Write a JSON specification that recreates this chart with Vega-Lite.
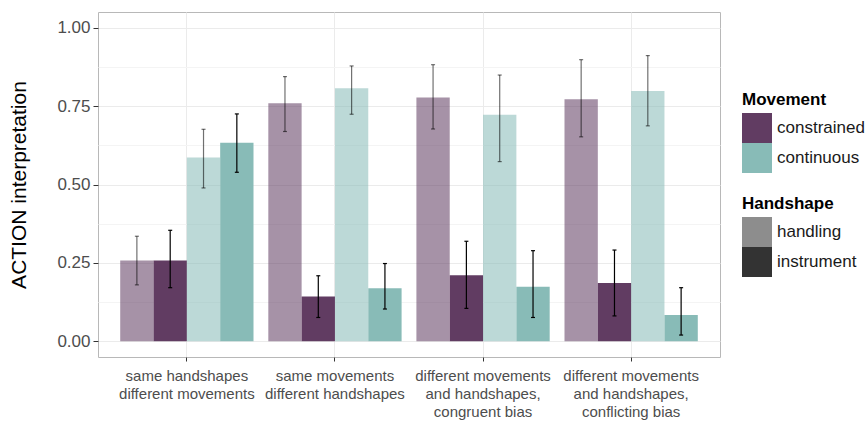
{
  "$schema": "https://vega.github.io/schema/vega-lite/v6.json",
  "width": 622,
  "height": 345,
  "autosize": {"type": "none"},
  "padding": {"left": 98, "top": 12, "right": 146, "bottom": 64},
  "background": "white",
  "config": {
    "font": "Liberation Sans",
    "view": {"stroke": "#b8b8b8", "strokeWidth": 1}
  },
  "data": {
    "values": [
      {"condition": "same handshapes\ndifferent movements", "Movement": "constrained", "Handshape": "handling", "bar": "constrained / handling", "mean": 0.258, "lo": 0.18, "hi": 0.335},
      {"condition": "same handshapes\ndifferent movements", "Movement": "constrained", "Handshape": "instrument", "bar": "constrained / instrument", "mean": 0.258, "lo": 0.171, "hi": 0.354},
      {"condition": "same handshapes\ndifferent movements", "Movement": "continuous", "Handshape": "handling", "bar": "continuous / handling", "mean": 0.586, "lo": 0.489, "hi": 0.676},
      {"condition": "same handshapes\ndifferent movements", "Movement": "continuous", "Handshape": "instrument", "bar": "continuous / instrument", "mean": 0.633, "lo": 0.539, "hi": 0.725},
      {"condition": "same movements\ndifferent handshapes", "Movement": "constrained", "Handshape": "handling", "bar": "constrained / handling", "mean": 0.759, "lo": 0.669, "hi": 0.844},
      {"condition": "same movements\ndifferent handshapes", "Movement": "constrained", "Handshape": "instrument", "bar": "constrained / instrument", "mean": 0.143, "lo": 0.076, "hi": 0.209},
      {"condition": "same movements\ndifferent handshapes", "Movement": "continuous", "Handshape": "handling", "bar": "continuous / handling", "mean": 0.807, "lo": 0.724, "hi": 0.878},
      {"condition": "same movements\ndifferent handshapes", "Movement": "continuous", "Handshape": "instrument", "bar": "continuous / instrument", "mean": 0.169, "lo": 0.103, "hi": 0.248},
      {"condition": "different movements\nand handshapes,\ncongruent bias", "Movement": "constrained", "Handshape": "handling", "bar": "constrained / handling", "mean": 0.777, "lo": 0.677, "hi": 0.882},
      {"condition": "different movements\nand handshapes,\ncongruent bias", "Movement": "constrained", "Handshape": "instrument", "bar": "constrained / instrument", "mean": 0.211, "lo": 0.105, "hi": 0.319},
      {"condition": "different movements\nand handshapes,\ncongruent bias", "Movement": "continuous", "Handshape": "handling", "bar": "continuous / handling", "mean": 0.722, "lo": 0.573, "hi": 0.849},
      {"condition": "different movements\nand handshapes,\ncongruent bias", "Movement": "continuous", "Handshape": "instrument", "bar": "continuous / instrument", "mean": 0.174, "lo": 0.076, "hi": 0.289},
      {"condition": "different movements\nand handshapes,\nconflicting bias", "Movement": "constrained", "Handshape": "handling", "bar": "constrained / handling", "mean": 0.772, "lo": 0.652, "hi": 0.898},
      {"condition": "different movements\nand handshapes,\nconflicting bias", "Movement": "constrained", "Handshape": "instrument", "bar": "constrained / instrument", "mean": 0.186, "lo": 0.081, "hi": 0.291},
      {"condition": "different movements\nand handshapes,\nconflicting bias", "Movement": "continuous", "Handshape": "handling", "bar": "continuous / handling", "mean": 0.798, "lo": 0.687, "hi": 0.911},
      {"condition": "different movements\nand handshapes,\nconflicting bias", "Movement": "continuous", "Handshape": "instrument", "bar": "continuous / instrument", "mean": 0.084, "lo": 0.02, "hi": 0.171}
    ]
  },
  "encoding": {
    "x": {
      "field": "condition",
      "type": "nominal",
      "sort": null,
      "title": null,
      "scale": {"paddingInner": 0.1, "paddingOuter": 0.15},
      "axis": {
        "labelExpr": "split(datum.label, '\\n')",
        "labelAngle": 0,
        "labelFontSize": 15,
        "labelColor": "#4d4d4d",
        "labelLineHeight": 18,
        "labelPadding": 7,
        "domain": false,
        "tickColor": "#333333",
        "tickSize": 4,
        "grid": true,
        "gridColor": "#ebebeb"
      }
    },
    "xOffset": {
      "field": "bar",
      "type": "nominal",
      "sort": ["constrained / handling", "constrained / instrument", "continuous / handling", "continuous / instrument"],
      "scale": {"paddingInner": 0, "paddingOuter": 0}
    },
    "opacity": {
      "field": "Handshape",
      "type": "nominal",
      "scale": {"domain": ["handling", "instrument"], "range": [0.56, 1]},
      "legend": {
        "orient": "none",
        "legendX": 644,
        "legendY": 184,
        "title": "Handshape",
        "titleFontSize": 17,
        "titleFontWeight": "bold",
        "titleColor": "black",
        "titlePadding": 4,
        "labelFontSize": 17,
        "labelColor": "#1a1a1a",
        "labelOffset": 5,
        "symbolType": "square",
        "symbolSize": 900,
        "symbolFillColor": "#333333",
        "symbolStrokeWidth": 0,
        "rowPadding": 0
      }
    }
  },
  "layer": [
    {
      "mark": {"type": "bar"},
      "encoding": {
        "y": {
          "field": "mean",
          "type": "quantitative",
          "stack": null,
          "title": "ACTION interpretation",
          "scale": {"domain": [-0.05, 1.05], "nice": false, "zero": false},
          "axis": {
            "values": [0, 0.125, 0.25, 0.375, 0.5, 0.625, 0.75, 0.875, 1],
            "labelExpr": "datum.value * 4 % 1 === 0 ? format(datum.value, '.2f') : ''",
            "labelFontSize": 17,
            "labelColor": "#4d4d4d",
            "labelPadding": 3,
            "domain": false,
            "tickSize": 5,
            "tickColor": "#333333",
            "tickOpacity": {"condition": {"test": "datum.value * 4 % 1 !== 0", "value": 0}, "value": 1},
            "grid": true,
            "gridColor": {"condition": {"test": "datum.value * 4 % 1 !== 0", "value": "#f4f4f4"}, "value": "#ebebeb"},
            "titleFontSize": 21,
            "titleFontWeight": "normal",
            "titleColor": "black",
            "titlePadding": 27
          }
        },
        "y2": {"datum": 0},
        "fill": {
          "field": "Movement",
          "type": "nominal",
          "scale": {"domain": ["constrained", "continuous"], "range": ["#613c62", "#88bbb7"]},
          "legend": {
            "orient": "none",
            "legendX": 644,
            "legendY": 80,
            "title": "Movement",
            "titleFontSize": 17,
            "titleFontWeight": "bold",
            "titleColor": "black",
            "titlePadding": 4,
            "labelFontSize": 17,
            "labelColor": "#1a1a1a",
            "labelOffset": 5,
            "symbolType": "square",
            "symbolSize": 900,
            "symbolStrokeWidth": 0,
            "symbolOpacity": 1,
            "rowPadding": 0
          }
        }
      }
    },
    {
      "mark": {"type": "rule", "color": "black", "strokeWidth": 1.2},
      "encoding": {
        "y": {"field": "lo", "type": "quantitative", "title": "ACTION interpretation"},
        "y2": {"field": "hi"}
      }
    },
    {
      "mark": {"type": "tick", "color": "black", "size": 4, "thickness": 1.2},
      "encoding": {
        "y": {"field": "lo", "type": "quantitative", "title": "ACTION interpretation"}
      }
    },
    {
      "mark": {"type": "tick", "color": "black", "size": 4, "thickness": 1.2},
      "encoding": {
        "y": {"field": "hi", "type": "quantitative", "title": "ACTION interpretation"}
      }
    }
  ]
}
